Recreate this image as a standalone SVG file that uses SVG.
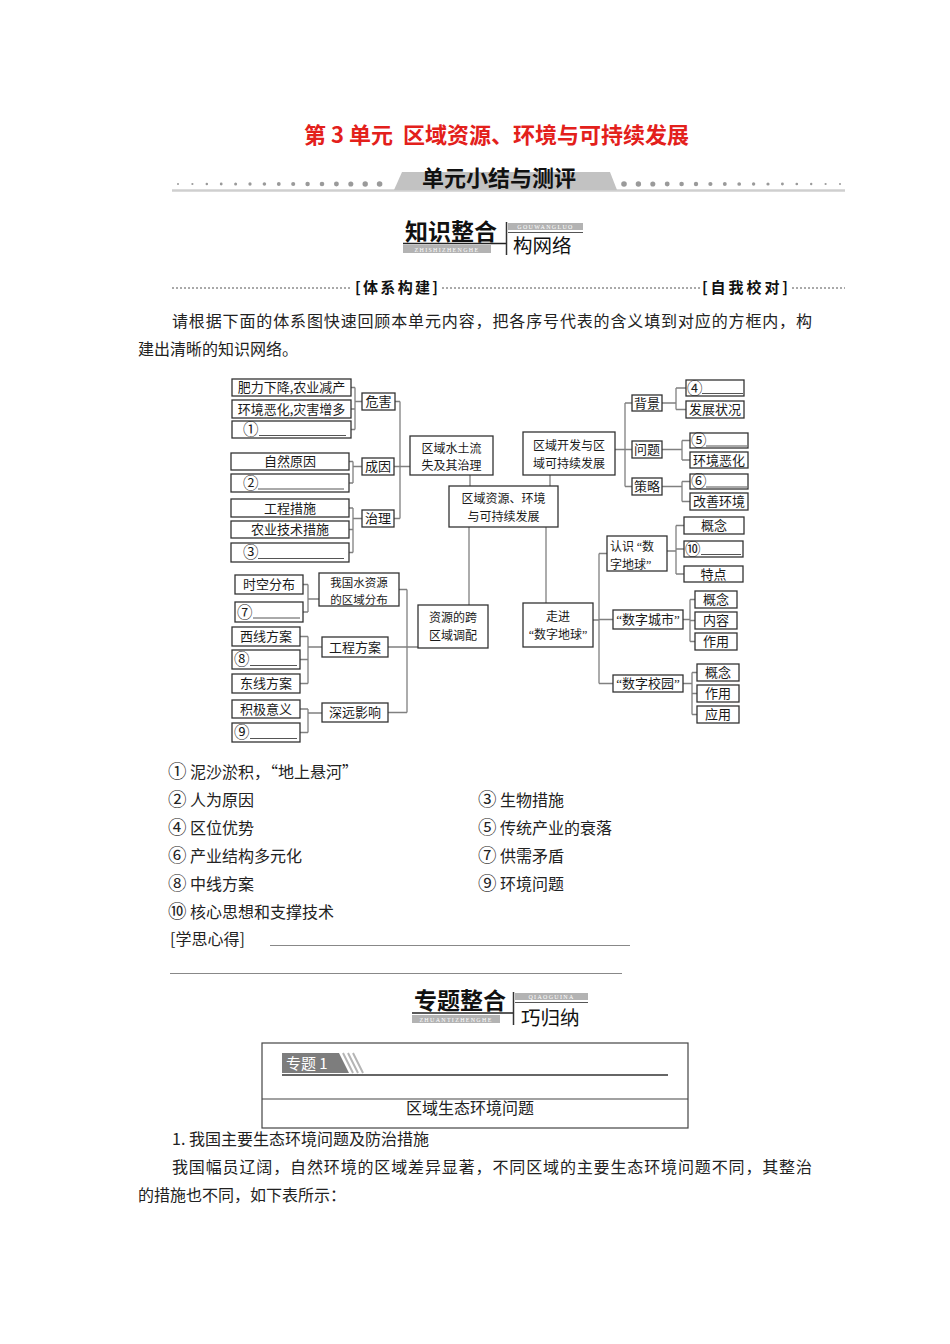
<svg xmlns="http://www.w3.org/2000/svg" width="950" height="1344" viewBox="0 0 950 1344">
<style>
.box{fill:#fff;stroke:#333;stroke-width:1.3}
.conn{fill:none;stroke:#808080;stroke-width:1.3}
.t{font-family:"Noto Sans CJK SC","Liberation Serif",serif;font-size:13px;fill:#1a1a1a}
.t2{font-size:12px}
.c{text-anchor:middle}
.q{font-family:"Liberation Serif","Noto Sans CJK SC",serif}
.n{font-size:15.5px}
.ln{font-size:18.5px}
.ul{stroke:#555;stroke-width:1}
.body{font-family:"Noto Sans CJK SC","Liberation Serif",serif;font-size:16px;fill:#222}
.title{font-family:"Noto Sans CJK SC","Liberation Sans",sans-serif;font-size:22px;font-weight:bold;fill:#e3201b}
.hd{font-family:"Noto Sans CJK SC","Liberation Sans",sans-serif;fill:#111}
.tiny{font-family:"Liberation Serif",serif;font-size:6px;fill:#fff;text-anchor:middle;letter-spacing:1.3px}
.dash{stroke:#555;stroke-width:1;stroke-dasharray:2 2}
.gbar{fill:#b3b3b3}
.dot{fill:#9a9a9a}
</style>
<rect width="950" height="1344" fill="#fff"/>

<!-- header -->
<g id="title">
<text x="304" y="143" class="title">第 3 单元</text>
<text x="403" y="143" class="title">区域资源、环境与可持续发展</text>
</g>
<g id="banner">
<line x1="172" y1="190.5" x2="845" y2="190.5" stroke="#cfcfcf" stroke-width="2.5"/>
<polygon points="394,190 402,172 610,172 617,190" fill="#c2c2c2"/>
<text x="499" y="186" class="hd" font-size="22" font-weight="bold" text-anchor="middle">单元小结与测评</text>
<g>
<circle class="dot" cx="178" cy="184" r="1"/><circle class="dot" cx="192.4" cy="184" r="1.1"/><circle class="dot" cx="206.8" cy="184" r="1.25"/><circle class="dot" cx="221.2" cy="184" r="1.4"/><circle class="dot" cx="235.6" cy="184" r="1.5"/><circle class="dot" cx="250" cy="184" r="1.65"/><circle class="dot" cx="264.4" cy="184" r="1.8"/><circle class="dot" cx="278.8" cy="184" r="1.9"/><circle class="dot" cx="293.2" cy="184" r="2.05"/><circle class="dot" cx="307.6" cy="184" r="2.2"/><circle class="dot" cx="322" cy="184" r="2.3"/><circle class="dot" cx="336.4" cy="184" r="2.45"/><circle class="dot" cx="350.8" cy="184" r="2.55"/><circle class="dot" cx="365.2" cy="184" r="2.7"/><circle class="dot" cx="379.6" cy="184" r="2.8"/>
<circle class="dot" cx="624" cy="184" r="2.8"/><circle class="dot" cx="638.4" cy="184" r="2.7"/><circle class="dot" cx="652.8" cy="184" r="2.55"/><circle class="dot" cx="667.2" cy="184" r="2.45"/><circle class="dot" cx="681.6" cy="184" r="2.3"/><circle class="dot" cx="696" cy="184" r="2.2"/><circle class="dot" cx="710.4" cy="184" r="2.1"/><circle class="dot" cx="724.8" cy="184" r="1.95"/><circle class="dot" cx="739.2" cy="184" r="1.85"/><circle class="dot" cx="753.6" cy="184" r="1.7"/><circle class="dot" cx="768" cy="184" r="1.6"/><circle class="dot" cx="782.4" cy="184" r="1.45"/><circle class="dot" cx="796.8" cy="184" r="1.35"/><circle class="dot" cx="811.2" cy="184" r="1.2"/><circle class="dot" cx="825.6" cy="184" r="1.1"/><circle class="dot" cx="840" cy="184" r="1"/>
</g>
</g>

<g id="logo-knowledge">
<text x="405" y="240" class="hd" font-size="23" font-weight="bold">知识整合</text>
<line x1="403" y1="243.5" x2="506" y2="243.5" stroke="#222" stroke-width="1.5"/>
<rect x="403" y="245" width="88" height="8" class="gbar"/>
<text x="447" y="251.8" class="tiny" font-size="5.5">ZHISHIZHENGHE</text>
<line x1="506.5" y1="222" x2="506.5" y2="255" stroke="#333" stroke-width="1.5"/>
<rect x="508" y="223" width="75" height="7" class="gbar"/>
<text x="545.5" y="228.5" class="tiny" font-size="5">GOUWANGLUO</text>
<line x1="508" y1="232.5" x2="583" y2="232.5" stroke="#555" stroke-width="1"/>
<text x="513" y="253" class="hd" font-size="19.5">构网络</text>
</g>

<g id="section-bar">
<line x1="172" y1="288" x2="352" y2="288" class="dash"/>
<text x="355" y="293" class="hd" font-size="15" font-weight="bold" textLength="83">[体系构建]</text>
<line x1="442" y1="288" x2="700" y2="288" class="dash"/>
<text x="702" y="293" class="hd" font-size="15" font-weight="bold" textLength="86">[自我校对]</text>
<line x1="792" y1="288" x2="845" y2="288" class="dash"/>
</g>

<g id="intro">
<text x="172" y="327" class="body" textLength="640" lengthAdjust="spacing">请根据下面的体系图快速回顾本单元内容，把各序号代表的含义填到对应的方框内，构</text>
<text x="138" y="355" class="body">建出清晰的知识网络。</text>
</g>

<!-- connectors -->
<g id="connectors" class="conn">
<path d="M351,387.5H355M351,409H355M351,429.5H355M355,387.5V429.5M355,401.5H362"/>
<path d="M349,461.5H353M349,483H353M353,461.5V483M353,466.5H362"/>
<path d="M349,508H353M349,529.5H353M349,552.5H353M353,508V552.5M353,518.5H362"/>
<path d="M395,401.5H400M394,466.5H410M394,518.5H400M400,401.5V518.5"/>
<path d="M470,475V486M550,475V486M469,527V605M546,527V603"/>
<path d="M615,449.5H632M625,403V486.5M625,403H632M625,486.5H632"/>
<path d="M662,403H676M676,388V409.5M676,388H686M676,409.5H686"/>
<path d="M662,449.5H682M682,440.5V460M682,440.5H690M682,460H690"/>
<path d="M662,486.5H682M682,481.5V501.5M682,481.5H690M682,501.5H690"/>
<path d="M593,620H599M599,553.5V683.5M599,553.5H607M599,619.5H613M599,683.5H613"/>
<path d="M667,551H676M676,525.5V574M676,525.5H684M676,549H684M676,574H684"/>
<path d="M683,619.5H690M690,599.5V641.5M690,599.5H695M690,620.5H695M690,641.5H695"/>
<path d="M683,683.5H692M692,672.5V714.5M692,672.5H697M692,693.5H697M692,714.5H697"/>
<path d="M303,584.5H308M303,612H308M308,584.5V612M308,599H319"/>
<path d="M300,636.5H308M300,659.5H308M300,683.5H308M308,636.5V683.5M308,647H322"/>
<path d="M300,709H308M300,732.5H308M308,709V732.5M308,713H322"/>
<path d="M399,589.5H407M388,647H418M388,712.5H407M407,589.5V712.5"/>
</g>

<!-- left upper nodes -->
<g id="n-feili"><rect class="box" x="232" y="379" width="119" height="17"/><text class="t c" x="291.5" y="392">肥力下降,农业减产</text></g>
<g id="n-huanjing"><rect class="box" x="232" y="400" width="119" height="18"/><text class="t c" x="291.5" y="413.5">环境恶化,灾害增多</text></g>
<g id="n-1"><rect class="box" x="232" y="421" width="119" height="17"/><text class="t n" x="243" y="435">①</text><line class="ul" x1="259" y1="435.5" x2="346" y2="435.5"/></g>
<g id="n-weihai"><rect class="box" x="362" y="393" width="33" height="17"/><text class="t c" x="378.5" y="406">危害</text></g>
<g id="n-ziran"><rect class="box" x="231" y="453" width="118" height="17"/><text class="t c" x="290" y="466">自然原因</text></g>
<g id="n-2"><rect class="box" x="231" y="474" width="118" height="18"/><text class="t n" x="243" y="488.5">②</text><line class="ul" x1="258" y1="489" x2="344" y2="489"/></g>
<g id="n-chengyin"><rect class="box" x="362" y="458" width="32" height="17"/><text class="t c" x="378" y="471">成因</text></g>
<g id="n-gongcheng"><rect class="box" x="231" y="499" width="118" height="18"/><text class="t c" x="290" y="512.5">工程措施</text></g>
<g id="n-nongye"><rect class="box" x="231" y="521" width="118" height="17"/><text class="t c" x="290" y="534">农业技术措施</text></g>
<g id="n-3"><rect class="box" x="231" y="543" width="118" height="19"/><text class="t n" x="243" y="558">③</text><line class="ul" x1="258" y1="558.5" x2="344" y2="558.5"/></g>
<g id="n-zhili"><rect class="box" x="362" y="510" width="32" height="17"/><text class="t c" x="378" y="523">治理</text></g>

<!-- center nodes -->
<g id="n-shuitu"><rect class="box" x="410" y="436" width="83" height="39"/><text class="t t2 c"><tspan x="451.5" y="452.5">区域水土流</tspan><tspan x="451.5" y="470">失及其治理</tspan></text></g>
<g id="n-center"><rect class="box" x="449" y="486" width="109" height="41"/><text class="t t2 c"><tspan x="503.5" y="503">区域资源、环境</tspan><tspan x="503.5" y="520.5">与可持续发展</tspan></text></g>
<g id="n-kaifa"><rect class="box" x="523" y="432" width="92" height="43"/><text class="t t2 c"><tspan x="569" y="450">区域开发与区</tspan><tspan x="569" y="467.5">域可持续发展</tspan></text></g>

<!-- right upper nodes -->
<g id="n-beijing"><rect class="box" x="632" y="395" width="30" height="16"/><text class="t c" x="647" y="407.5">背景</text></g>
<g id="n-wenti"><rect class="box" x="632" y="441" width="30" height="17"/><text class="t c" x="647" y="454">问题</text></g>
<g id="n-celue"><rect class="box" x="632" y="478" width="30" height="17"/><text class="t c" x="647" y="491">策略</text></g>
<g id="n-4"><rect class="box" x="686" y="380" width="58" height="16"/><text class="t n" x="687" y="393.5">④</text><line class="ul" x1="702" y1="393.5" x2="743" y2="393.5"/></g>
<g id="n-fazhan"><rect class="box" x="686" y="401" width="58" height="17"/><text class="t c" x="715" y="414">发展状况</text></g>
<g id="n-5"><rect class="box" x="690" y="433" width="58" height="15"/><text class="t n" x="691" y="446">⑤</text><line class="ul" x1="706" y1="446" x2="747" y2="446"/></g>
<g id="n-ehua"><rect class="box" x="690" y="452" width="58" height="16"/><text class="t c" x="719" y="464.5">环境恶化</text></g>
<g id="n-6"><rect class="box" x="690" y="474" width="58" height="15"/><text class="t n" x="691" y="487">⑥</text><line class="ul" x1="706" y1="487" x2="747" y2="487"/></g>
<g id="n-gaishan"><rect class="box" x="690" y="493" width="58" height="17"/><text class="t c" x="719" y="506">改善环境</text></g>

<!-- right lower nodes -->
<g id="n-zoujin"><rect class="box" x="523" y="603" width="70" height="44"/><text class="t t2 c"><tspan x="558" y="621">走进</tspan><tspan x="558" y="638.5"><tspan class="q">“</tspan>数字地球<tspan class="q">”</tspan></tspan></text></g>
<g id="n-renshi"><rect class="box" x="607" y="536" width="60" height="35"/><text class="t t2"><tspan x="610" y="551">认识 <tspan class="q">“</tspan>数</tspan><tspan x="610" y="568.5">字地球<tspan class="q">”</tspan></tspan></text></g>
<g id="n-gainian1"><rect class="box" x="684" y="517" width="60" height="17"/><text class="t c" x="714" y="530">概念</text></g>
<g id="n-10"><rect class="box" x="684" y="541" width="59" height="16"/><text class="t n" x="685" y="554.5">⑩</text><line class="ul" x1="701" y1="554.5" x2="741" y2="554.5"/></g>
<g id="n-tedian"><rect class="box" x="684" y="566" width="59" height="16"/><text class="t c" x="713.5" y="578.5">特点</text></g>
<g id="n-chengshi"><rect class="box" x="613" y="610" width="70" height="19"/><text class="t c" x="648" y="624"><tspan class="q">“</tspan>数字城市<tspan class="q">”</tspan></text></g>
<g id="n-gainian2"><rect class="box" x="695" y="591" width="42" height="17"/><text class="t c" x="716" y="604">概念</text></g>
<g id="n-neirong"><rect class="box" x="695" y="612" width="42" height="17"/><text class="t c" x="716" y="625">内容</text></g>
<g id="n-zuoyong1"><rect class="box" x="695" y="633" width="42" height="17"/><text class="t c" x="716" y="646">作用</text></g>
<g id="n-xiaoyuan"><rect class="box" x="613" y="675" width="70" height="17"/><text class="t c" x="648" y="688"><tspan class="q">“</tspan>数字校园<tspan class="q">”</tspan></text></g>
<g id="n-gainian3"><rect class="box" x="697" y="664" width="42" height="17"/><text class="t c" x="718" y="677">概念</text></g>
<g id="n-zuoyong2"><rect class="box" x="697" y="685" width="42" height="17"/><text class="t c" x="718" y="698">作用</text></g>
<g id="n-yingyong"><rect class="box" x="697" y="706" width="42" height="17"/><text class="t c" x="718" y="719">应用</text></g>

<!-- left lower nodes -->
<g id="n-shikong"><rect class="box" x="235" y="575" width="68" height="19"/><text class="t c" x="269" y="589">时空分布</text></g>
<g id="n-7"><rect class="box" x="235" y="602" width="68" height="20"/><text class="t n" x="237" y="617.5">⑦</text><line class="ul" x1="253" y1="618" x2="300" y2="618"/></g>
<g id="n-fenbu"><rect class="box" x="319" y="573" width="80" height="33"/><text class="t c" style="font-size:11.5px"><tspan x="359" y="587">我国水资源</tspan><tspan x="359" y="603.7">的区域分布</tspan></text></g>
<g id="n-xixian"><rect class="box" x="232" y="627" width="68" height="19"/><text class="t c" x="266" y="641">西线方案</text></g>
<g id="n-8"><rect class="box" x="232" y="650" width="68" height="19"/><text class="t n" x="234" y="665">⑧</text><line class="ul" x1="250" y1="665.5" x2="297" y2="665.5"/></g>
<g id="n-dongxian"><rect class="box" x="232" y="674" width="68" height="19"/><text class="t c" x="266" y="688">东线方案</text></g>
<g id="n-fangan"><rect class="box" x="322" y="637" width="66" height="20"/><text class="t c" x="355" y="651.5">工程方案</text></g>
<g id="n-jiji"><rect class="box" x="232" y="700" width="68" height="18"/><text class="t c" x="266" y="713.5">积极意义</text></g>
<g id="n-9"><rect class="box" x="232" y="723" width="68" height="19"/><text class="t n" x="234" y="738">⑨</text><line class="ul" x1="250" y1="738.5" x2="297" y2="738.5"/></g>
<g id="n-shenyuan"><rect class="box" x="322" y="703" width="66" height="19"/><text class="t c" x="355" y="717">深远影响</text></g>
<g id="n-diaopei"><rect class="box" x="418" y="605" width="70" height="43"/><text class="t t2 c"><tspan x="453" y="622">资源的跨</tspan><tspan x="453" y="639.5">区域调配</tspan></text></g>

<!-- answers -->
<g id="answers" class="body">
<text x="168" y="778"><tspan class="ln">①</tspan> 泥沙淤积，“地上悬河”</text>
<text x="168" y="806"><tspan class="ln">②</tspan> 人为原因</text>
<text x="478" y="806"><tspan class="ln">③</tspan> 生物措施</text>
<text x="168" y="834"><tspan class="ln">④</tspan> 区位优势</text>
<text x="478" y="834"><tspan class="ln">⑤</tspan> 传统产业的衰落</text>
<text x="168" y="862"><tspan class="ln">⑥</tspan> 产业结构多元化</text>
<text x="478" y="862"><tspan class="ln">⑦</tspan> 供需矛盾</text>
<text x="168" y="890"><tspan class="ln">⑧</tspan> 中线方案</text>
<text x="478" y="890"><tspan class="ln">⑨</tspan> 环境问题</text>
<text x="168" y="918"><tspan class="ln">⑩</tspan> 核心思想和支撑技术</text>
<text x="170" y="945">[学思心得]</text>
<line x1="270" y1="945.5" x2="630" y2="945.5" stroke="#888" stroke-width="1"/>
<line x1="170" y1="973.5" x2="622" y2="973.5" stroke="#888" stroke-width="1"/>
</g>

<g id="logo-topic">
<text x="414" y="1009" class="hd" font-size="23" font-weight="bold">专题整合</text>
<line x1="412" y1="1013" x2="513" y2="1013" stroke="#222" stroke-width="1.5"/>
<rect x="412" y="1015" width="88" height="8" class="gbar"/>
<text x="456" y="1021.8" class="tiny" font-size="5.5">ZHUANTIZHENGHE</text>
<line x1="513.5" y1="992" x2="513.5" y2="1025" stroke="#333" stroke-width="1.5"/>
<rect x="515" y="993" width="73" height="7" class="gbar"/>
<text x="551.5" y="998.5" class="tiny" font-size="5">QIAOGUINA</text>
<line x1="515" y1="1002.5" x2="588" y2="1002.5" stroke="#555" stroke-width="1"/>
<text x="521" y="1025" class="hd" font-size="19.5">巧归纳</text>
</g>

<g id="topic-box">
<rect x="262" y="1043" width="426" height="85" fill="none" stroke="#444" stroke-width="1.2"/>
<line x1="262" y1="1099" x2="688" y2="1099" stroke="#444" stroke-width="1.2"/>
<polygon points="282,1053 339,1053 349,1073 282,1073" fill="#7d7d7d"/>
<path d="M343,1053L353,1073M348,1053L358,1073M353,1053L363,1073" stroke="#b5b5b5" stroke-width="2"/>
<text x="286" y="1069" class="hd" font-size="15" style="fill:#fff">专题 1</text>
<line x1="282" y1="1075" x2="668" y2="1075" stroke="#666" stroke-width="2"/>
<text x="470" y="1114" class="body" text-anchor="middle">区域生态环境问题</text>
</g>

<g id="text-bottom" class="body">
<text x="172" y="1145">1. 我国主要生态环境问题及防治措施</text>
<text x="172" y="1173" textLength="640" lengthAdjust="spacing">我国幅员辽阔，自然环境的区域差异显著，不同区域的主要生态环境问题不同，其整治</text>
<text x="138" y="1201">的措施也不同，如下表所示：</text>
</g>
</svg>
